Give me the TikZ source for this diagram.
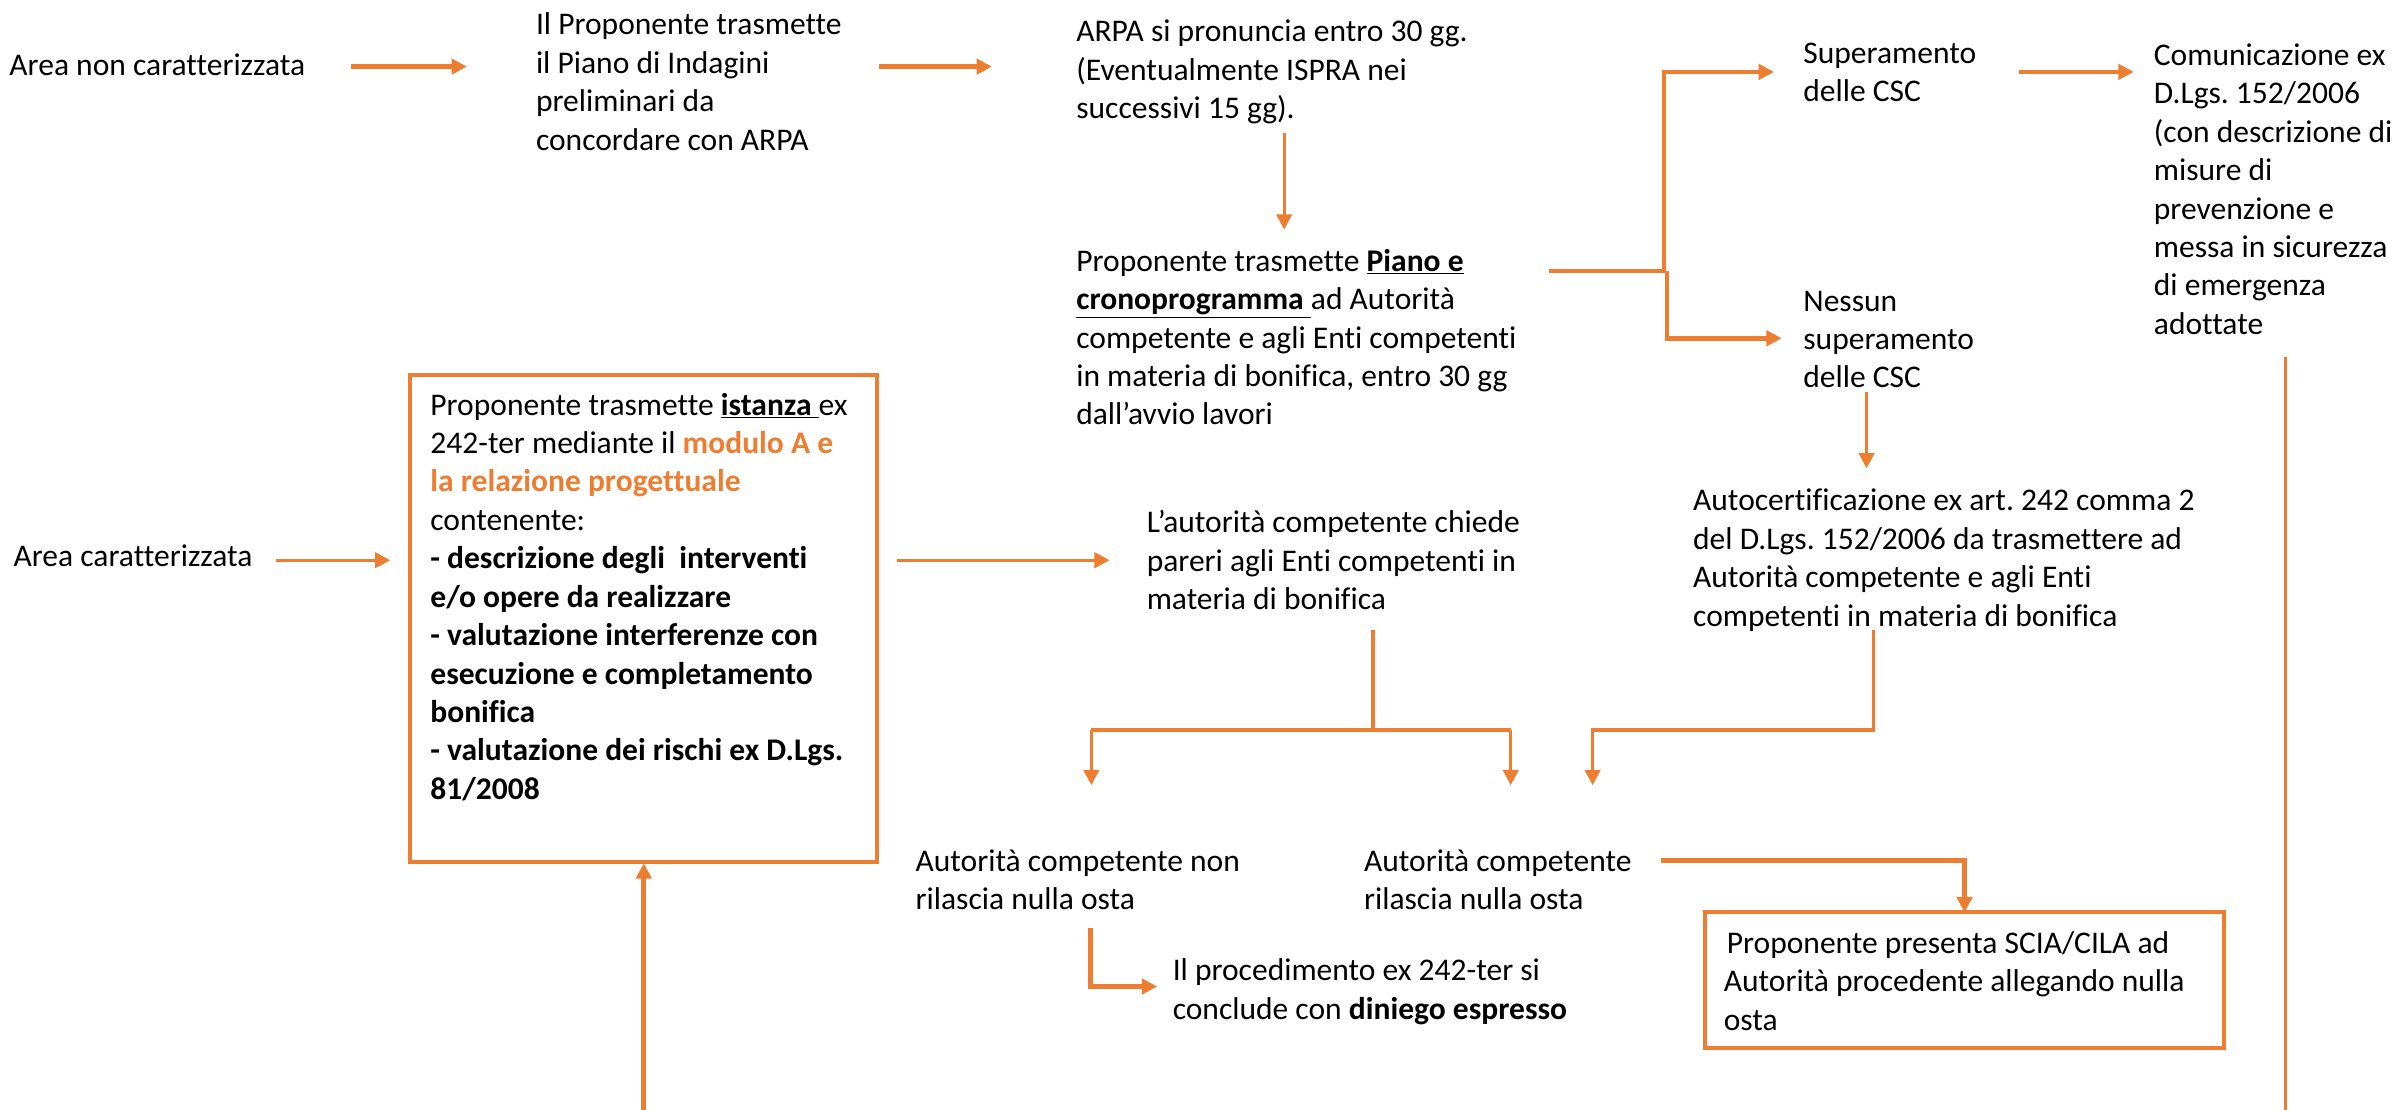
\documentclass[tikz,border=0pt]{standalone}
\usepackage{fontspec}
\setmainfont{Carlito}[Ligatures={NoCommon}]
\usetikzlibrary{arrows.meta}
\definecolor{or}{HTML}{ED7D31}
\newcommand\fl{\rule{0pt}{17pt}}
\frenchspacing
\begin{document}
\begin{tikzpicture}[x=1pt,y=-1pt,
  txt/.style={anchor=north west,inner sep=0pt,align=left,font=\fontsize{20.6}{25.1}\selectfont\frenchspacing},
  con/.style={draw=or,line width=2.2pt},
  thk/.style={draw=or,line width=3pt},
  thn/.style={draw=or,line width=2pt},
  tip/.style={-{Triangle[length=10pt,width=10pt]}},
  tipn/.style={-{Triangle[length=10pt,width=10pt]}},
  frame/.style={draw=or,line width=2.6pt}]
\useasboundingbox (0,0) rectangle (1568,725);

% text nodes
\node[txt] (an) at (6,32) {\fl Area non caratterizzata};
\node[txt] (ip) at (350,5.5) {\fl Il Proponente trasmette\\il Piano di Indagini\\preliminari da\\concordare con ARPA};
\node[txt] (arpa) at (703,10) {\fl ARPA si pronuncia entro 30 gg.\\(Eventualmente ISPRA nei\\successivi 15 gg).};
\node[txt] (piano) at (703,160) {\fl Proponente trasmette \underline{\textbf{Piano e}}\\\underline{\textbf{cronoprogramma }}ad Autorità\\competente e agli Enti competenti\\in materia di bonifica, entro 30 gg\\dall’avvio lavori};
\node[txt] (sup) at (1178,24) {\fl Superamento\\delle CSC};
\node[txt] (com) at (1407,25.5) {\fl Comunicazione ex\\D.Lgs. 152/2006\\(con descrizione di\\misure di\\prevenzione e\\messa in sicurezza\\di emergenza\\adottate};
\node[txt] (nes) at (1178,186) {\fl Nessun\\superamento\\delle CSC};
\node[txt] (auto) at (1106,316.5) {\fl Autocertificazione ex art. 242 comma 2\\del D.Lgs. 152/2006 da trasmettere ad\\Autorità competente e agli Enti\\competenti in materia di bonifica};
\node[txt] (lac) at (749,331) {\fl L’autorità competente chiede\\pareri agli Enti competenti in\\materia di bonifica};
\node[txt] (ac) at (8.7,353) {\fl Area caratterizzata};

\draw[frame] (268,245) rectangle (573,563);
\node[txt] (ist) at (281,254) {\fl Proponente trasmette \underline{\textbf{istanza }}ex\\
242-ter mediante il \textcolor{or}{\textbf{modulo A e}}\\
\textcolor{or}{\textbf{la relazione progettuale}}\\
contenente:\\
\textbf{- descrizione degli\ \ interventi}\\
\textbf{e/o opere da realizzare}\\
\textbf{- valutazione interferenze con}\\
\textbf{esecuzione e completamento}\\
\textbf{bonifica}\\
\textbf{- valutazione dei rischi ex D.Lgs.}\\
\textbf{81/2008}};

\node[txt] (nno) at (598,552) {\fl Autorità competente non\\rilascia nulla osta};
\node[txt] (ril) at (891,552) {\fl Autorità competente\\rilascia nulla osta};
\node[txt] (proc) at (766,623.6) {\fl Il procedimento ex 242-ter si\\conclude con \textbf{diniego espresso}};
\draw[frame] (1113.6,596) rectangle (1453,685);
\node[txt] (scia) at (1126,605.6) {\fl\hspace{2pt}Proponente presenta SCIA/CILA ad\\Autorità procedente allegando nulla\\osta};

% coordinates for connector ends
\coordinate (c1a) at (229,43.5);  \coordinate (c1b) at (305,43.5);
\coordinate (c2a) at (574,43.5);  \coordinate (c2b) at (648,43.5);
\coordinate (c3a) at (839,87);  \coordinate (c3b) at (839,150);
\coordinate (f0) at (1012,177);  \coordinate (f1) at (1088,177);
\coordinate (fu0) at (1087,177); \coordinate (fu) at (1159,47);
\coordinate (fd0) at (1089,177); \coordinate (fd) at (1164,221);
\coordinate (c4a) at (1319,47); \coordinate (c4b) at (1394,47);
\coordinate (rv1) at (1493,233); \coordinate (rv2) at (1493,725);
\coordinate (c5a) at (1219.5,256); \coordinate (c5b) at (1219.5,306);
\coordinate (au1) at (1224,411.5); \coordinate (au2) at (1224,477); \coordinate (au3) at (1040.5,477); \coordinate (au4) at (1040.5,513);
\coordinate (la1) at (897,411.5); \coordinate (la2) at (897,477);
\coordinate (ll) at (713,477); \coordinate (lr) at (987,477);
\coordinate (lle) at (713,513); \coordinate (lre) at (987,513);
\coordinate (ac1) at (180,366); \coordinate (ac2) at (255,366);
\coordinate (bx1) at (586,366); \coordinate (bx2) at (725,366);
\coordinate (rs1) at (1085,562); \coordinate (rs2) at (1283.5,562); \coordinate (rs3) at (1283.5,596);
\coordinate (np1) at (712.6,606); \coordinate (np2) at (712.6,644.5); \coordinate (np3) at (756,644.5);
\coordinate (up1) at (420.6,725); \coordinate (up2) at (420.6,564);

% connectors
\draw[thk,tip] (c1a) -- (c1b);
\draw[thk,tip] (c2a) -- (c2b);
\draw[thn,tipn] (c3a) -- (c3b);
\draw[thk] (f0) -- (f1);
\draw[thk,tip] (fu0) |- (fu);
\draw[thk,tip] (fd0) |- (fd);
\draw[thk,tip] (c4a) -- (c4b);
\draw[con] (rv1) -- (rv2);
\draw[con,tip] (c5a) -- (c5b);
\draw[con,tip] (au1) -- (au2) -- (au3) -- (au4);
\draw[con] (la1) -- (la2);
\draw[con] (ll) -- (lr);
\draw[con,tip] (ll) -- (lle);
\draw[con,tip] (lr) -- (lre);
\draw[con,tip] (ac1) -- (ac2);
\draw[con,tip] (bx1) -- (bx2);
\draw[thk,tip] (rs1) -- (rs2) -- (rs3);
\draw[thk,tip] (np1) -- (np2) -- (np3);
\draw[thk,tip] (up1) -- (up2);
\end{tikzpicture}
\end{document}
